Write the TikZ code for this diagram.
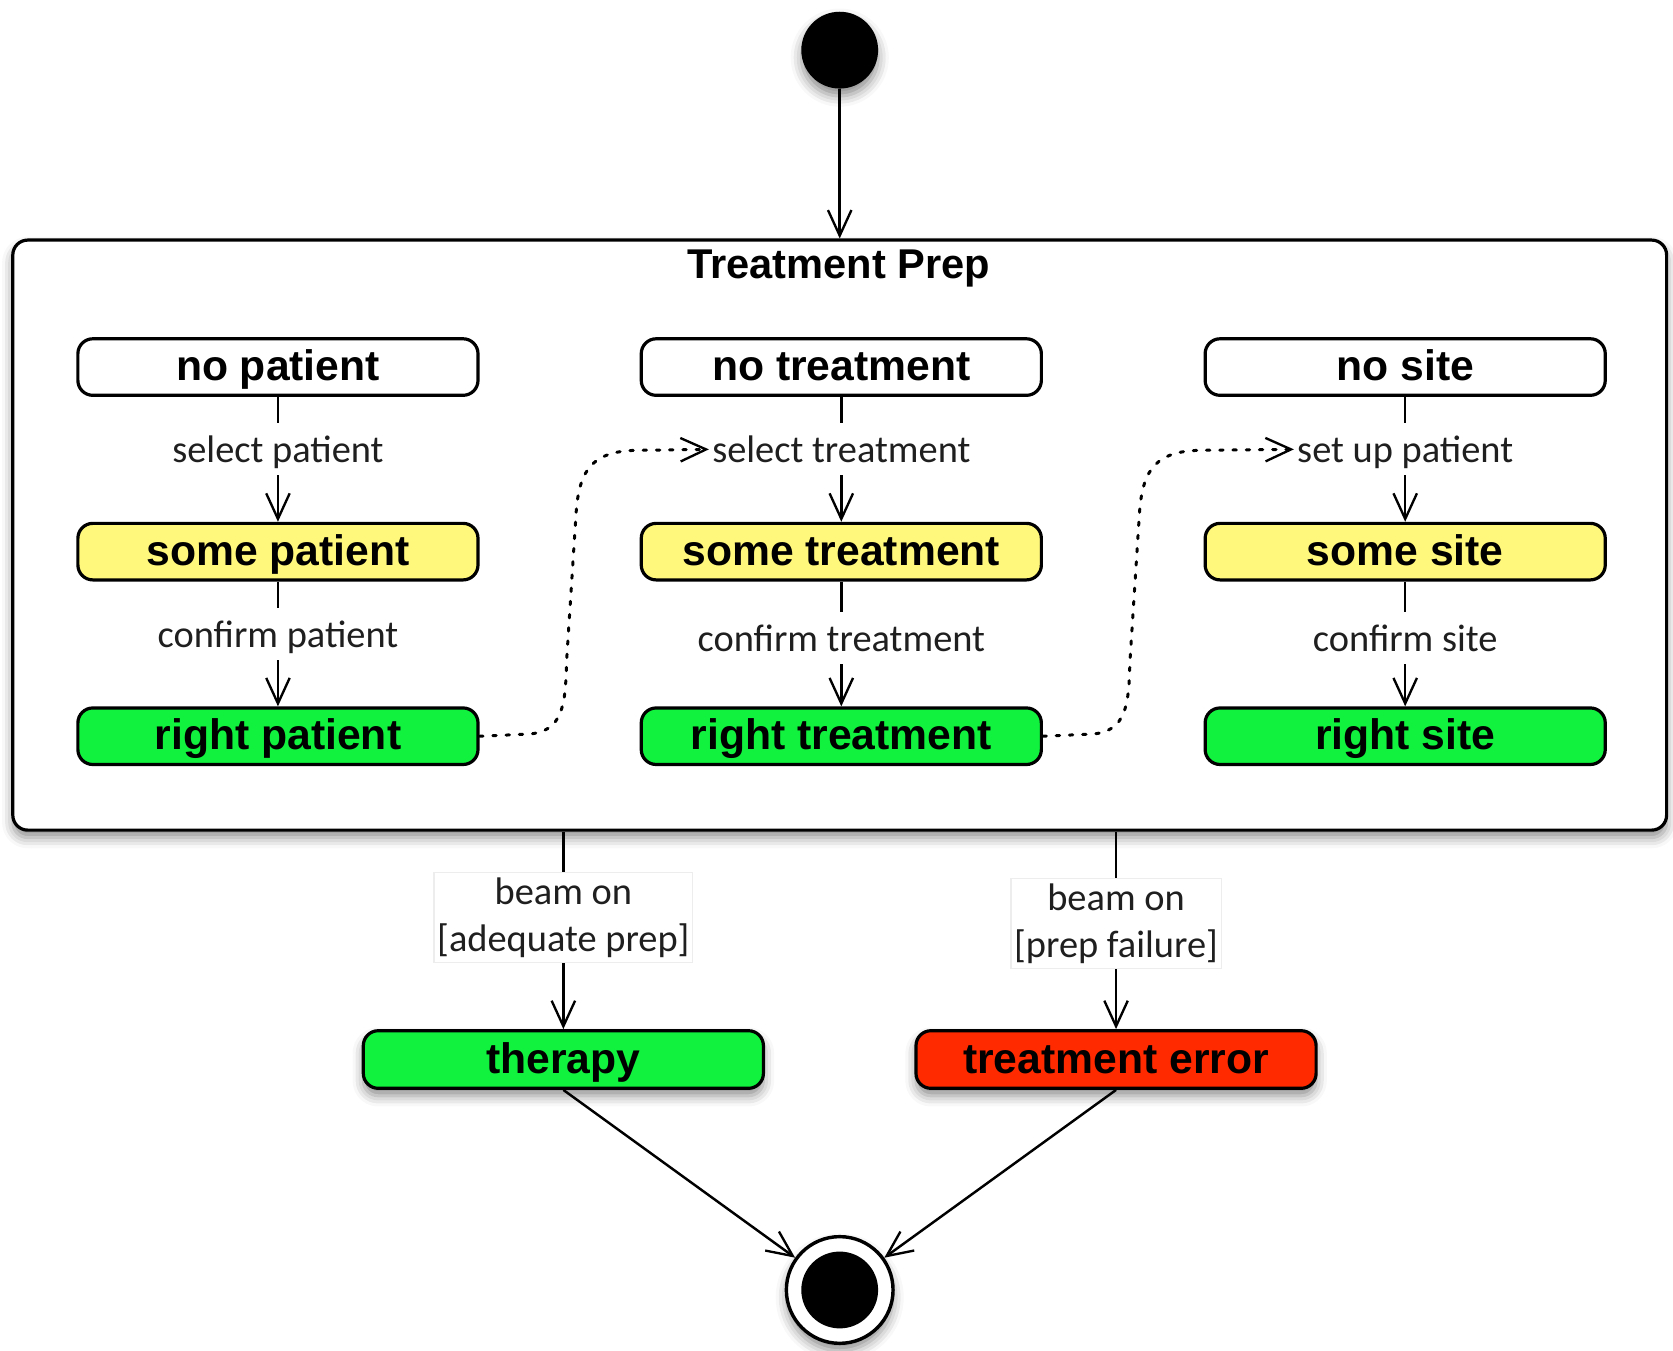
\documentclass[tikz,border=0pt]{standalone}
\usepackage{fontspec}
\setmainfont{Liberation Sans}
\newfontfamily\labfont{Carlito}
\usetikzlibrary{arrows.meta,shadows.blur}
\definecolor{stYellow}{HTML}{FFF87C}
\definecolor{stGreen}{HTML}{10F23E}
\definecolor{stRed}{HTML}{FF2A00}
\begin{document}
\begin{tikzpicture}[x=0.5pt,y=-0.5pt,
  conn/.style={line width=1.15pt,-{Straight Barb[length=12pt,width=11pt,line width=1.1pt]}},
  dotconn/.style={line width=1.4pt,line cap=round,dash pattern=on 1.6pt off 4.6pt,-{Straight Barb[length=12pt,width=11pt,line width=1.1pt]}},
  state/.style={draw,line width=1.5pt,rounded corners=7pt,minimum width=187.5pt,minimum height=26.5pt,inner sep=0pt,text height=15.8pt,text depth=2.9pt,font=\bfseries\fontsize{20}{24}\selectfont},
  shad/.style={blur shadow={shadow xshift=0pt,shadow yshift=-3.5pt,shadow blur radius=5pt,shadow opacity=45}},
  lbl/.style={fill=white,inner xsep=1pt,inner ysep=4pt,text height=14.5pt,text depth=2pt,text=black!88,font=\labfont\fontsize{18}{22}\selectfont},
  blbl/.style={fill=white,draw=black!7,line width=0.5pt,align=center,inner xsep=1.5pt,inner ysep=2.5pt,text=black!88,font=\labfont\fontsize{18}{22}\selectfont}]
\useasboundingbox (0,0) rectangle (1568,1266);

% start
\node[circle,fill=black,minimum size=36pt,inner sep=0pt,shad] (start) at (787,47) {};

% composite state
\node[draw,line width=1.5pt,rounded corners=7pt,fill=white,minimum width=775pt,minimum height=276.5pt,shad] (prep) at (787,501.5) {};
\node[text height=16pt,text depth=2pt,font=\bfseries\fontsize{19.5}{22}\selectfont] (title) at (786,247) {Treatment Prep};

\draw[conn] (start) -- (prep.north);

% column 1
\node[state,fill=white] (np) at (260.5,344) {no patient};
\node[state,fill=stYellow] (spt) at (260.5,517) {some patient};
\node[state,fill=stGreen] (rpt) at (260.5,690) {right patient};
% column 2
\node[state,fill=white] (nt) at (788.5,344) {no treatment};
\node[state,fill=stYellow] (st) at (788.5,517) {some treatment};
\node[state,fill=stGreen] (rt) at (788.5,690) {right treatment};
% column 3
\node[state,fill=white] (ns) at (1317,344) {no site};
\node[state,fill=stYellow] (ss) at (1317,517) {some site};
\node[state,fill=stGreen] (rs) at (1317,690) {right site};

\draw[conn] (np) -- (spt) node[lbl,pos=0.42] (l1) {select patient};
\draw[conn] (spt) -- (rpt) node[lbl,pos=0.42] (l2) {confirm patient};
\draw[conn] (nt) -- (st) node[lbl,pos=0.42] (l3) {select treatment};
\draw[conn] (st) -- (rt) node[lbl,pos=0.45] (l4) {confirm treatment};
\draw[conn] (ns) -- (ss) node[lbl,pos=0.42] (l5) {set up patient};
\draw[conn] (ss) -- (rs) node[lbl,pos=0.45] (l6) {confirm site};

% dotted dependencies
\draw[dotconn] (rpt.east) -- (495,688) .. controls (528,686) and (530,660) .. (531,620) -- (540,480) .. controls (543,438) and (557,422) .. (600,422) -- (l3.west);
\draw[dotconn] (rt.east) -- (1023,688) .. controls (1056,686) and (1058,660) .. (1059,620) -- (1068,480) .. controls (1071,438) and (1085,422) .. (1128,422) -- (l5.west);

% outcomes
\node[state,fill=stGreen,minimum height=27pt,shad] (therapy) at (528,993) {therapy};
\node[state,fill=stRed,minimum height=27pt,shad] (terr) at (1046,993) {treatment error};

\coordinate (b1) at (therapy |- prep.south);
\coordinate (b2) at (terr |- prep.south);
\draw[conn] (b1) -- (therapy) node[blbl,pos=0.435] (l7) {beam on\\{}[adequate prep]};
\draw[conn] (b2) -- (terr) node[blbl,pos=0.465] (l8) {beam on\\{}[prep failure]};

% end
\node[circle,draw,line width=1.6pt,fill=white,minimum size=50pt,inner sep=0pt,shad] (end) at (787,1209) {};
\node[circle,fill=black,minimum size=36pt,inner sep=0pt] (endin) at (end) {};

\draw[conn] (therapy.south) -- (end);
\draw[conn] (terr.south) -- (end);
\end{tikzpicture}
\end{document}
